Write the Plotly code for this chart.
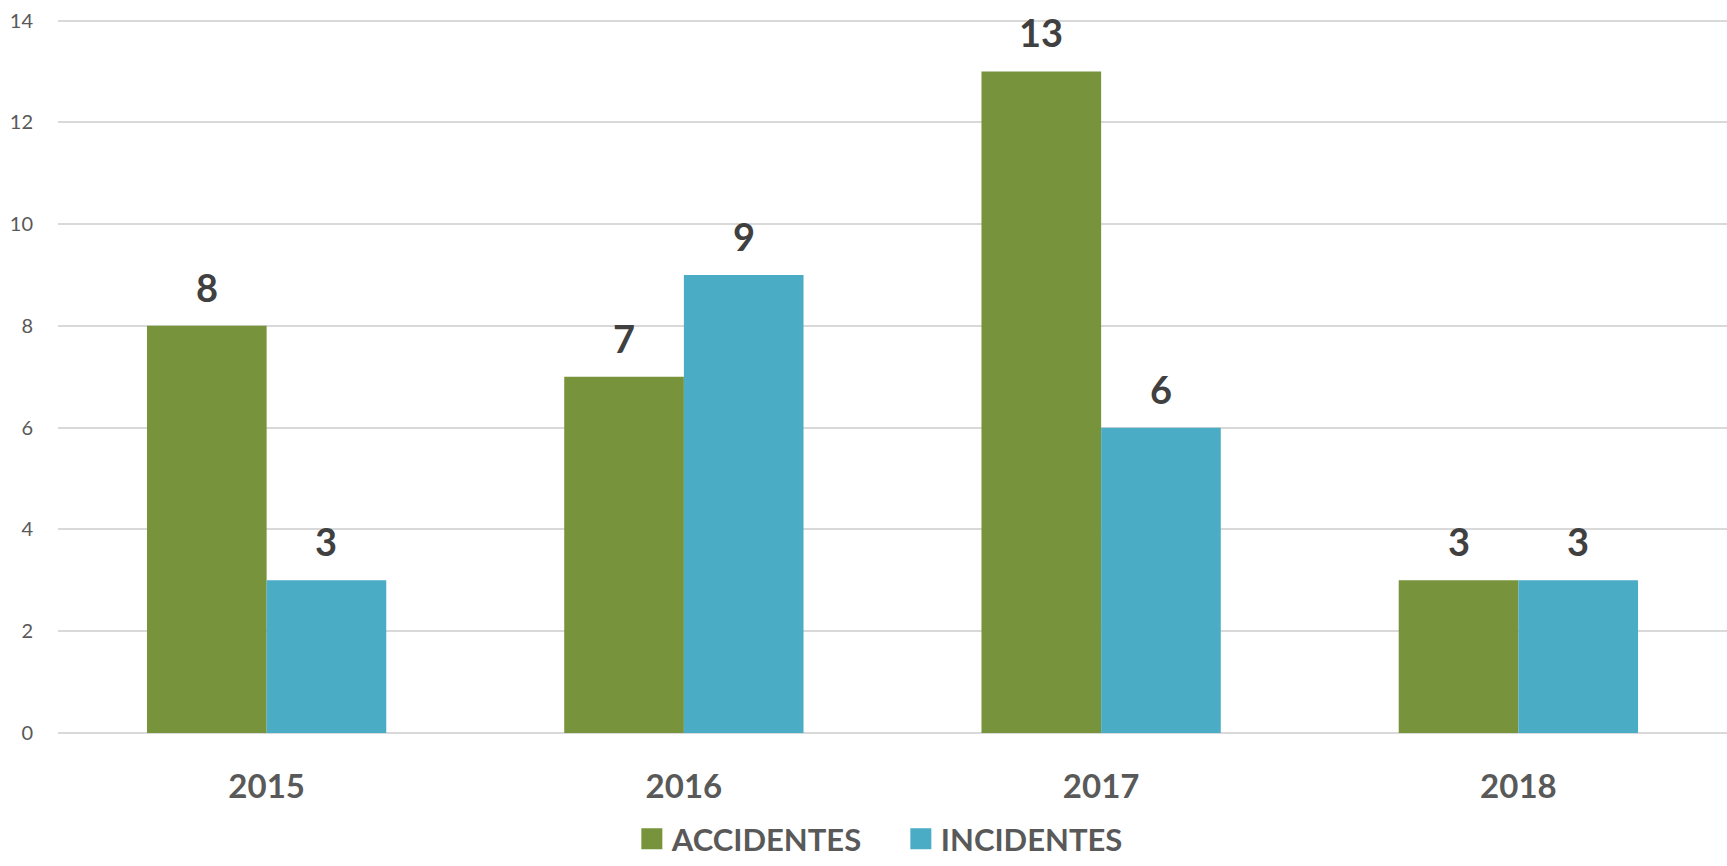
import plotly.graph_objects as go

years = ["2015", "2016", "2017", "2018"]
accidentes = [8, 7, 13, 3]
incidentes = [3, 9, 6, 3]
series_names = ["ACCIDENTES", "INCIDENTES"]
y_ticks = [0, 2, 4, 6, 8, 10, 12, 14]

colors = ["#77933C", "#4BACC6"]
font = "Lato, 'Open Sans', sans-serif"

fig = go.Figure()
for name, vals, col in zip(series_names, [accidentes, incidentes], colors):
    fig.add_trace(go.Bar(
        x=years, y=vals, name=name, showlegend=False,
        marker=dict(color=col, line=dict(width=0)),
    ))
# legend entries with larger square keys
for name, col in zip(series_names, colors):
    fig.add_trace(go.Scatter(
        x=[None], y=[None], mode="markers", name=name,
        marker=dict(symbol="square", size=16, color=col,
                    line=dict(color=col, width=5)),
    ))

# data labels above bars
shift = 59.8
for vals, sgn in [(accidentes, -1), (incidentes, 1)]:
    for i, v in enumerate(vals):
        fig.add_annotation(
            x=i, y=v, xref="x", yref="y", text=f"<b>{v}</b>", showarrow=False,
            xshift=sgn * shift, yshift=14, yanchor="bottom",
            font=dict(family=font, size=38, color="#404040"),
        )

fig.update_layout(
    width=1727, height=866,
    margin=dict(l=58, r=0, t=19, b=133, autoexpand=False),
    paper_bgcolor="white", plot_bgcolor="white",
    barmode="group", bargap=0.4265, bargroupgap=0,
    font=dict(family=font, color="#595959"),
    showlegend=True,
    legend=dict(
        orientation="h", x=0.505, xanchor="center", y=-0.1863, yanchor="bottom",
        font=dict(family=font, size=31, color="#595959", weight="bold"),
        itemsizing="trace", traceorder="normal",
        entrywidth=224, entrywidthmode="pixels",
    ),
    xaxis=dict(
        type="category", range=[-0.5, 3.5], autorange=False, automargin=False,
        showgrid=False, showline=False, zeroline=False,
        tickfont=dict(family=font, size=33, color="#595959", weight="bold"),
        ticks="outside", ticklen=24, tickcolor="rgba(0,0,0,0)",
    ),
    yaxis=dict(
        range=[0, 14.03], autorange=False, automargin=False, tickvals=y_ticks,
        showgrid=True, gridcolor="#D9D9D9", gridwidth=1.5,
        zeroline=True, zerolinecolor="#D9D9D9", zerolinewidth=2,
        tickfont=dict(family=font, size=20, color="#595959"),
        ticks="outside", ticklen=20, tickcolor="rgba(0,0,0,0)",
    ),
)

fig.write_html("out.html",
               config={"displayModeBar": False},
               post_script="document.body.style.margin='0';document.body.style.overflow='hidden';")
